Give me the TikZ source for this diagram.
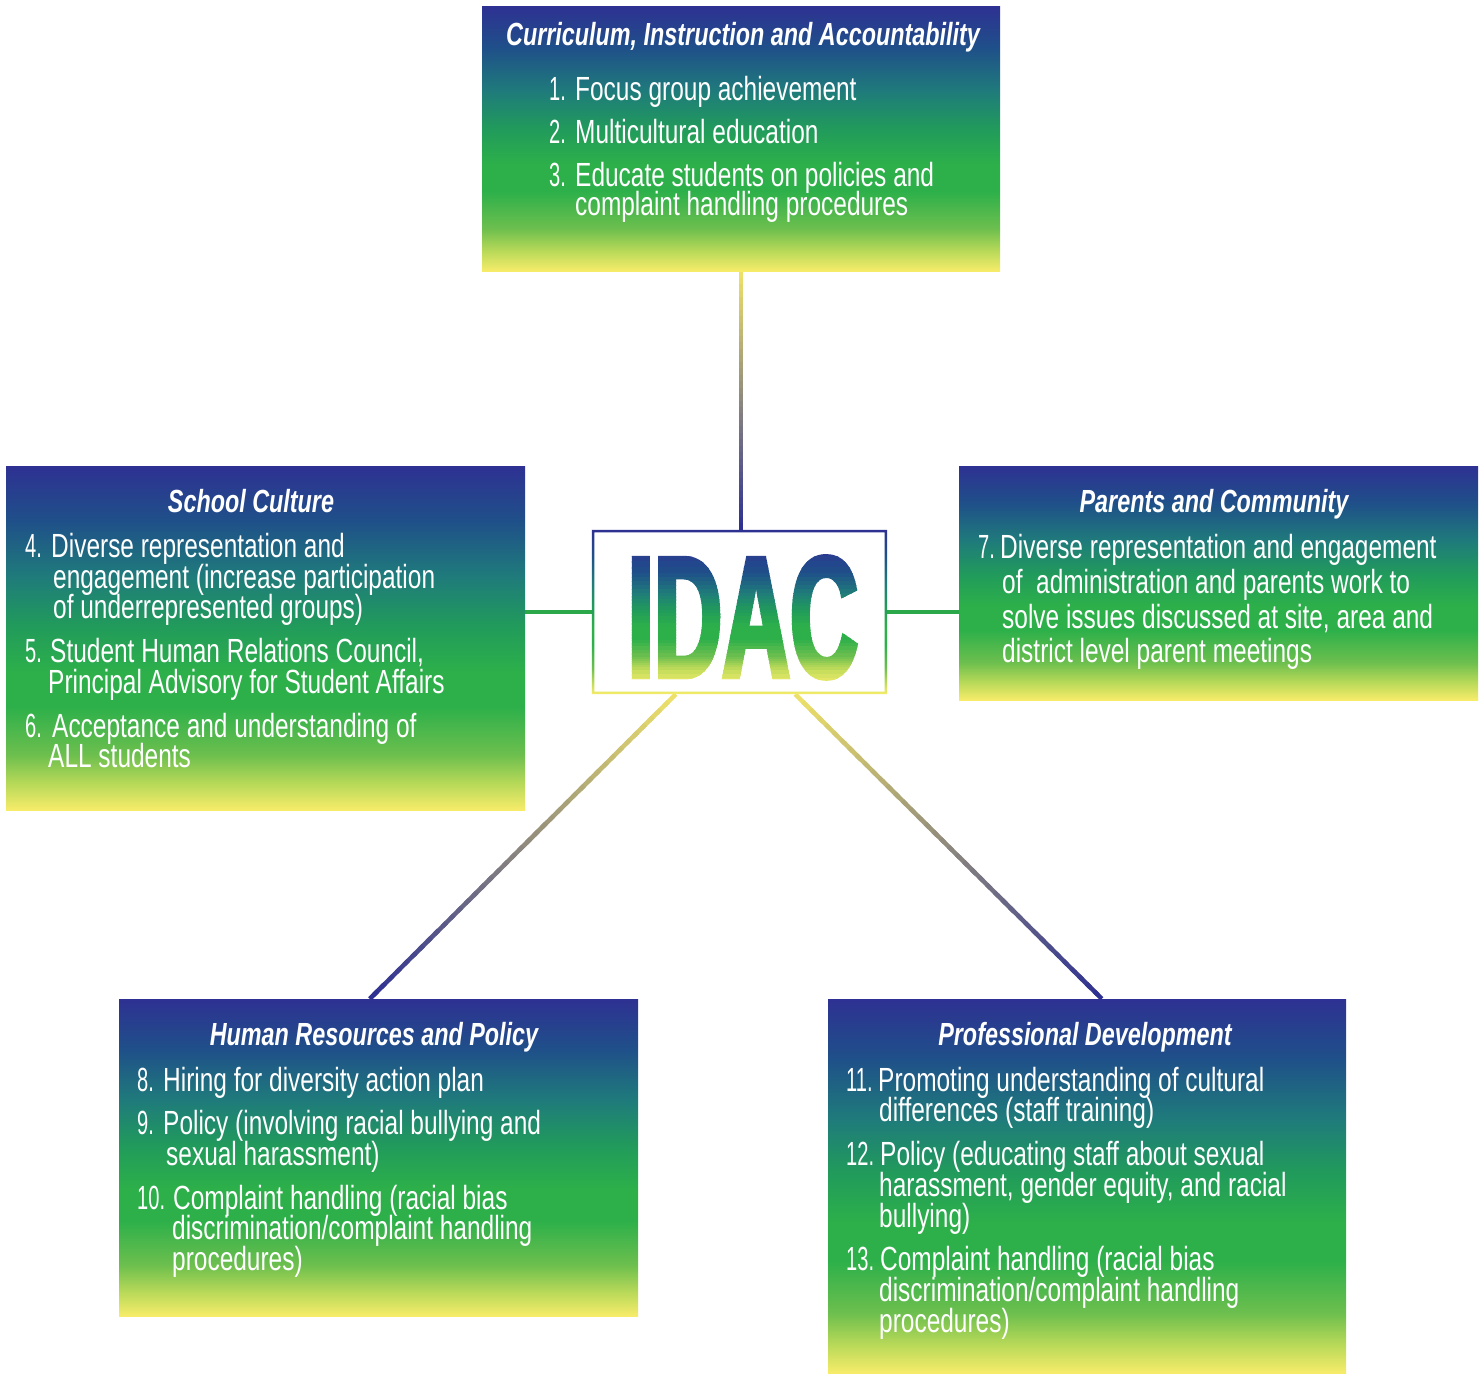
\documentclass[tikz,border=0pt]{standalone}
\usepackage{fontspec}
\usetikzlibrary{calc,backgrounds}
\newfontfamily\bodyfont[FakeStretch=0.73]{Liberation Sans}
\newfontfamily\numfont[FakeStretch=0.6]{Liberation Sans}
\newfontfamily\idacfont[FakeStretch=0.545, FakeBold=2.5]{Liberation Sans}
\definecolor{gy}{HTML}{F7EC6A}
\definecolor{gyg}{HTML}{B5D858}
\definecolor{gg2}{HTML}{6DBF4E}
\definecolor{gg}{HTML}{2DB04A}
\definecolor{gt}{HTML}{219A5C}
\definecolor{gte}{HTML}{1F7B7B}
\definecolor{gb}{HTML}{1F5089}
\definecolor{gdb}{HTML}{2E3192}
\definecolor{lny}{HTML}{EDE06A}
\definecolor{lnb}{HTML}{2E3192}
\definecolor{lng}{HTML}{2AA84A}
\pgfdeclareverticalshading{boxgrad}{100bp}{color(0bp)=(gy); color(25bp)=(gy); color(29bp)=(gyg); color(33bp)=(gg2); color(40bp)=(gg); color(45bp)=(gg); color(52bp)=(gt); color(59bp)=(gte); color(67bp)=(gb); color(75bp)=(gdb); color(100bp)=(gdb)}
\newcommand\gradseg[3]{%
  \foreach \i in {0,...,39}{%
    \pgfmathsetmacro\ta{\i/40}%
    \pgfmathsetmacro\tb{min((\i+1.5)/40,1)}%
    \pgfmathsetmacro\pc{100-100*\i/39}%
    \draw[line width=#3, draw=lny!\pc!lnb] ($(#1)!\ta!(#2)$) -- ($(#1)!\tb!(#2)$);}}
\begin{document}
\begin{tikzpicture}[x=1pt,y=-1pt,
  boxn/.style={rectangle, inner sep=0pt, shading=boxgrad, draw=none},
  txt/.style={anchor=base west, inner sep=0pt, text=white, font=\bodyfont\fontsize{33.5}{36}\selectfont},
  num/.style={anchor=base west, inner sep=0pt, text=white, font=\numfont\fontsize{33.5}{36}\selectfont},
  ttl/.style={anchor=base, inner sep=0pt, text=white, font=\bodyfont\bfseries\itshape\fontsize{32}{34}\selectfont},
  idactxt/.style={anchor=base, inner sep=0pt, font=\idacfont\bfseries\fontsize{173}{180}\selectfont},
  hline/.style={draw=lng, line width=4pt}]
\useasboundingbox (0,0) rectangle (1484,1374);
% boxes
\node[boxn, minimum width=518pt, minimum height=265pt] (cia) at (741,138.5) {};
\node[boxn, minimum width=519pt, minimum height=344pt] (sc) at (265.5,638) {};
\node[boxn, minimum width=519pt, minimum height=234pt] (pc) at (1218.5,583) {};
\node[boxn, minimum width=519pt, minimum height=317pt] (hr) at (378.5,1157.5) {};
\node[boxn, minimum width=518pt, minimum height=374pt] (pd) at (1087,1186) {};
\node[rectangle, fill=white, inner sep=0pt, minimum width=295pt, minimum height=164pt] (idac) at (739.5,612) {};
\path[shading=boxgrad, even odd rule] (idac.north west) rectangle (idac.south east)
  ([shift={(2.5,2.5)}]idac.north west) rectangle ([shift={(-2.5,-2.5)}]idac.south east);
% IDAC word with vertical colour gradient, drawn in clipped strips
\foreach \ya/\yb/\ca/\cb in {545/573/gdb/gb, 573/593/gb/gte, 593/610/gte/gt, 610/627/gt/gg, 627/640/gg/gg, 640/657/gg/gg2, 657/667/gg2/gyg, 667/686/gyg/gy}{%
  \foreach \k in {0,...,4}{%
    \pgfmathsetmacro\ytop{\ya+(\yb-\ya)*\k/5}%
    \pgfmathsetmacro\ybot{\ya+(\yb-\ya)*(\k+1)/5+0.6}%
    \pgfmathsetmacro\pm{100*(\k+0.5)/5}%
    \begin{scope}
      \clip (600,\ytop) rectangle (880,\ybot);
      \node[idactxt, text=\cb!\pm!\ca] (idacw) at (743,677) {IDAC};
    \end{scope}}}
% connectors
\coordinate (vtop) at (cia.south);
\coordinate (vbot) at (cia.south |- idac.north);
\coordinate (d1a) at ([xshift=84pt]idac.south west);
\coordinate (d1b) at ([xshift=251pt]hr.north west);
\coordinate (d2a) at ([xshift=-92pt]idac.south east);
\coordinate (d2b) at ([xshift=274pt]pd.north west);
\begin{scope}[on background layer]
\fill[white] (0,0) rectangle (1484,1374);
\gradseg{vtop}{vbot}{4.5pt}
\gradseg{d1a}{d1b}{4.5pt}
\gradseg{d2a}{d2b}{4.5pt}
\draw[hline] (sc.east |- idac.west) -- (idac.west);
\draw[hline] (idac.east) -- (pc.west |- idac.east);
\end{scope}
% top box text
\node[ttl] (ciat) at (743,45) {Curriculum, Instruction and Accountability};
\node[num] (cia1n) at (549,100) {1.};
\node[txt] (cia1) at (575,100) {Focus group achievement};
\node[num] (cia2n) at (549,143) {2.};
\node[txt] (cia2) at (575,143) {Multicultural education};
\node[num] (cia3n) at (549,186) {3.};
\node[txt] (cia3a) at (575,186) {Educate students on policies and};
\node[txt] (cia3b) at (575,215) {complaint handling procedures};
% school culture
\node[ttl] (sct) at (251,512) {School Culture};
\node[num] (sc4n) at (25,557) {4.};
\node[txt] (sc4a) at (51,557) {Diverse representation and};
\node[txt] (sc4b) at (53,588) {engagement (increase participation};
\node[txt] (sc4c) at (53,618) {of underrepresented groups)};
\node[num] (sc5n) at (25,662) {5.};
\node[txt] (sc5a) at (50,662) {Student Human Relations Council,};
\node[txt] (sc5b) at (48,693) {Principal Advisory for Student Affairs};
\node[num] (sc6n) at (25,737) {6.};
\node[txt] (sc6a) at (52,737) {Acceptance and understanding of};
\node[txt] (sc6b) at (48,767) {ALL students};
% parents and community
\node[ttl] (pct) at (1214,512) {Parents and Community};
\node[num] (pc7n) at (978,558) {7.};
\node[txt] (pc7a) at (1000,558) {Diverse representation and engagement};
\node[txt] (pc7b) at (1002,593) {of\ \ administration and parents work to};
\node[txt] (pc7c) at (1002,628) {solve issues discussed at site, area and};
\node[txt] (pc7d) at (1002,662) {district level parent meetings};
% human resources
\node[ttl] (hrt) at (374,1045) {Human Resources and Policy};
\node[num] (hr8n) at (137,1091) {8.};
\node[txt] (hr8) at (163,1091) {Hiring for diversity action plan};
\node[num] (hr9n) at (137,1134) {9.};
\node[txt] (hr9a) at (163,1134) {Policy (involving racial bullying and};
\node[txt] (hr9b) at (166,1165) {sexual harassment)};
\node[num] (hr10n) at (137,1209) {10.};
\node[txt] (hr10a) at (173,1209) {Complaint handling (racial bias};
\node[txt] (hr10b) at (172,1239) {discrimination/complaint handling};
\node[txt] (hr10c) at (172,1270) {procedures)};
% professional development
\node[ttl] (pdt) at (1085,1045) {Professional Development};
\node[num] (pd11n) at (846,1091) {11.};
\node[txt] (pd11a) at (878,1091) {Promoting understanding of cultural};
\node[txt] (pd11b) at (879,1121) {differences (staff training)};
\node[num] (pd12n) at (846,1165) {12.};
\node[txt] (pd12a) at (880,1165) {Policy (educating staff about sexual};
\node[txt] (pd12b) at (879,1196) {harassment, gender equity, and racial};
\node[txt] (pd12c) at (879,1227) {bullying)};
\node[num] (pd13n) at (846,1270) {13.};
\node[txt] (pd13a) at (880,1270) {Complaint handling (racial bias};
\node[txt] (pd13b) at (879,1301) {discrimination/complaint handling};
\node[txt] (pd13c) at (879,1332) {procedures)};
\end{tikzpicture}
\end{document}
